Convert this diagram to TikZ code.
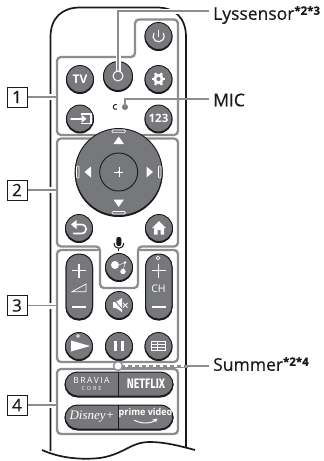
\documentclass[tikz,border=0pt]{standalone}
\usepackage{fontspec}
\setmainfont{Open Sans}
\newfontfamily\condf{Fira Sans}
\newfontfamily\serf{Liberation Serif}
\newfontfamily\heavyf[FakeBold=0.35]{Open Sans}
\usetikzlibrary{calc}
\definecolor{btng}{HTML}{77787B}
\definecolor{lineg}{HTML}{8C8D8F}
\definecolor{ink}{HTML}{1A1A1A}
\tikzset{
  x=1pt,y=-1pt,
  bodyline/.style={draw=ink,line width=1.7pt},
  grouprule/.style={draw=lineg,line width=2.3pt,rounded corners=4pt},
  btn/.style={circle,draw=ink,fill=btng,line width=.9pt,minimum size=27pt,inner sep=0pt,text=white,font=\bfseries\fontsize{12}{12}\selectfont,
     preaction={draw=ink,fill=ink,line width=1pt,transform canvas={yshift=-1pt}}},
  pill/.style={rounded corners=12.5pt,draw=ink,fill=btng,line width=1pt,
     preaction={draw=ink,fill=ink,line width=1pt,transform canvas={yshift=-1pt}}},
  numbox/.style={draw=ink,line width=1pt,minimum width=20pt,minimum height=20pt,inner sep=0pt,font=\heavyf\fontsize{17}{17}\selectfont,text=ink},
  leader/.style={draw=lineg,line width=1.8pt,preaction={draw=white,line width=6pt}},
  label/.style={anchor=west,inner sep=0pt,text=ink,font=\heavyf\fontsize{17.5}{17.5}\selectfont},
  icon/.style={draw=white,line width=1.1pt},
  pilltext/.style={text=white,inner sep=0pt},
}
\newcommand{\supmark}[1]{\raisebox{5pt}{\fontsize{11.5}{11.5}\selectfont\bfseries #1}}
\begin{document}
\begin{tikzpicture}
\useasboundingbox (0,0) rectangle (324,461);
\fill[white] (0,0) rectangle (324,461);

% body
\draw[bodyline] (50.5,451) -- (50.5,37) .. controls (50.5,18) and (62,7.5) .. (80,7.5) -- (157,7.5) .. controls (175,7.5) and (186,18) .. (186,37) -- (186,447);
\draw[bodyline] (42,450) .. controls (60,458) and (80,460) .. (100,458) .. controls (125,454) and (130,442) .. (150,442) .. controls (165,442) and (180,446) .. (195,450);

% groups
\draw[grouprule] (135,57) -- (135,19.5) -- (178,19.5) -- (178,135) -- (57,135) -- (57,57) -- cycle;
\draw[grouprule] (57,138.5) -- (178,138.5) -- (178,246.5) -- (138,246.5) -- (138,288) -- (100,288) -- (100,246.5) -- (57,246.5) -- cycle;
\draw[grouprule] (96,250) -- (57,250) -- (57,362) -- (178,362) -- (178,250) -- (141,250);
\draw[grouprule] (57,369) rectangle (178,434);
\draw[draw=lineg,line width=2pt] (96,250) -- (100,250) (138,250) -- (141,250);

% number boxes and their leaders
\node[numbox] (n1) at (17,97) {1};
\node[numbox] (n2) at (17,190) {2};
\node[numbox] (n3) at (17,305.5) {3};
\node[numbox] (n4) at (17,405) {4};
\coordinate (g1) at (56,97);
\coordinate (g2) at (56,190);
\coordinate (g3) at (56,305.5);
\coordinate (g4) at (56,405);
\draw[leader] (n1.east) -- (g1);
\draw[leader] (n2.east) -- (g2);
\draw[leader] (n3.east) -- (g3);
\draw[leader] (n4.east) -- (g4);

% top buttons
\node[btn] (power) at (158.5,36) {};
\node[btn] (tv) at (80,79) {TV};
\node[btn,minimum size=29pt] (sensor) at (118,76) {};
\node[btn] (gear) at (158.5,79) {};
\node[btn] (input) at (80,118.5) {};
\node[btn,font=\bfseries\fontsize{11.5}{11.5}\selectfont] (n123) at (158.5,118.5) {123};

% power icon
\draw[icon] (154,33) arc[start angle=215,end angle=-35,radius=5.6];
\draw[icon] (158.5,29.5) -- (158.5,36.5);
% gear icon
\foreach \a in {0,60,...,300}{\draw[white,line width=2.4pt] (158.5,79) -- ++(\a:6.8);}
\fill[white] (158.5,79) circle (5.2);
\fill[btng] (158.5,79) circle (2.1);
% input icon
\draw[icon,line width=1.3pt] (81,114) -- (91,114) -- (91,123.5) -- (81,123.5);
\draw[icon,line width=1.4pt,line cap=round] (71,118.8) -- (84,118.8);
\fill[white] (86.5,118.8) -- (81.5,114.8) -- (81.5,122.8) -- cycle;

% MIC and sensor
\node[circle,fill=btng,draw=none,minimum size=6pt,inner sep=0pt] (micdot) at (125,107) {};
\draw[line width=.9pt,draw=ink] (117,104.8) arc[start angle=-60,end angle=-300,radius=2.5];
\node[label] (lys) at (213,15) {Lyssensor\supmark{*2*3}};
\node[label] (mic) at (213,100) {MIC};
\node[label] (sum) at (213,364) {Summer\supmark{*2*4}};
\coordinate (c1) at (118,11);
\coordinate (c2) at (125,99);
\coordinate (c3) at (209,11);
\coordinate (c4) at (209,99);
\draw[draw=lineg,line width=1.8pt,preaction={draw=white,line width=5pt}] (sensor.center) -- (c1) -- (c3);
\node[circle,draw=white,line width=1pt,minimum size=10pt,inner sep=0pt,fill=btng] (sensorhole) at (118,76) {};
\draw[draw=lineg,line width=1.8pt] (micdot.center) -- (c2) -- (c4);

% D-pad
\node[btn,minimum size=87pt] (dpad) at (118.7,172) {};
\node[circle,draw=ink,fill=btng,line width=.9pt,minimum size=38pt,inner sep=0pt] (ok) at (118.7,172) {};
\draw[white,line width=.3pt] (114,172) -- (123.4,172) (118.7,167.3) -- (118.7,176.7);
\fill[white] (118.7,172) circle (1);
\fill[white] (118.7,136.5) -- (113.5,144) -- (123.9,144) -- cycle;
\fill[white] (118.7,207) -- (113.5,199.5) -- (123.9,199.5) -- cycle;
\fill[white] (84.5,172) -- (91,166.5) -- (91,177.5) -- cycle;
\fill[white] (153,172) -- (146.5,166.5) -- (146.5,177.5) -- cycle;
\draw[white,line width=.7pt,rounded corners=1pt] (112,130) rectangle (125.4,132.6);
\draw[white,line width=.7pt,rounded corners=1pt] (112,211.5) rectangle (125.4,214);
\draw[white,line width=.7pt,rounded corners=1pt] (76.5,166) rectangle (79,178);
\draw[white,line width=.7pt,rounded corners=1pt] (158.5,166) rectangle (161,178);

% back / home
\node[btn] (back) at (79,228) {};
\node[btn] (home) at (159,228) {};
\draw[icon,line width=1.6pt] (75,224.5) -- (81,224.5) .. controls (88,224.5) and (88,233.5) .. (81,233.5) -- (73,233.5);
\fill[white] (71,224.5) -- (76.5,220) -- (76.5,229) -- cycle;
\fill[white] (159,221) -- (166,228) -- (164,228) -- (164,234.5) -- (160.5,234.5) -- (160.5,230) -- (157.5,230) -- (157.5,234.5) -- (154,234.5) -- (154,228) -- (152,228) -- cycle;

% mic icon and assistant
\fill[ink,rounded corners=2pt] (116.3,237) rectangle (121.3,246);
\draw[ink,line width=1pt] (114,243) .. controls (114,250) and (123.6,250) .. (123.6,243);
\draw[ink,line width=1pt] (118.8,248.5) -- (118.8,251);
\node[btn] (assist) at (119,267) {};
\fill[white] (115,265) circle (4);
\fill[white] (123,271.5) circle (2.7);
\fill[white] (125,262.5) circle (1.3);
\draw[white,line width=.4pt] (119,265) -- (125,262.5) -- (123,271.5);

% vol / ch
\path[pill] (66,254) rectangle (92.5,319);
\path[pill] (145.5,254) rectangle (172,319);
\draw[white,line width=1.2pt] (72,270.5) -- (86,270.5) (79,263.5) -- (79,277.5);
\draw[white,line width=1.2pt] (72,307) -- (86,307);
\draw[white,line width=.7pt] (72,291.7) -- (86,291.7) -- (86,284) -- cycle;
\draw[white,line width=1.2pt] (151.5,270.5) -- (165.5,270.5) (158.5,263.5) -- (158.5,277.5);
\draw[white,line width=1.2pt] (151.5,307) -- (165.5,307);
\node[pilltext,font=\fontsize{10.5}{10.5}\selectfont] (ch) at (158.5,289) {CH};
\draw[white,line width=.7pt] (158,258) circle (1.8);

% mute, play, pause, guide
\node[btn] (mute) at (119,305) {};
\fill[white] (113,302) -- (116,302) -- (122,298) -- (122,312) -- (116,308) -- (113,308) -- cycle;
\draw[btng,line width=.9pt] (113,299) -- (124,311);
\draw[white,line width=1pt] (123,303) -- (127.5,307.5) (127.5,303) -- (123,307.5);
\node[btn] (play) at (79,346) {};
\fill[white] (71,340.5) -- (90,346) -- (71,351.5) -- cycle;
\draw[white,line width=.6pt] (78,336) circle (1.4);
\node[btn] (pause) at (119,346) {};
\fill[white] (114,341) rectangle (117.4,351);
\fill[white] (120.6,341) rectangle (124,351);
\node[btn] (guide) at (158.5,346) {};
\draw[white,line width=.9pt] (151.5,341.5) rectangle (165.5,350.5);
\fill[white] (151.5,344) rectangle (165.5,345.2);
\fill[white] (151.5,347.4) rectangle (165.5,348.2);
\fill[white] (156.5,341.5) rectangle (157.2,350.5);

% streaming
\path[pill] (65,372) rectangle (173,396);
\path[pill] (65,405) rectangle (173,429);
\draw[ink,line width=.9pt] (118.6,372) -- (118.6,396) (118.6,405) -- (118.6,429);
\node[pilltext,font=\fontsize{8.5}{8.5}\selectfont\addfontfeature{LetterSpace=18}] (bravia) at (91.5,380) {BRAVIA};
\node[pilltext,font=\fontsize{5.5}{5.5}\selectfont\addfontfeature{LetterSpace=35}] (core) at (91.5,388.5) {CORE};
\node[pilltext,font=\condf\bfseries\fontsize{12.5}{12.5}\selectfont] (netflix) at (146,384) {\scalebox{.85}[1.1]{NETFLIX}};
\node[pilltext,font=\serf\itshape\fontsize{13}{13}\selectfont] (disney) at (92,417) {Disney+};
\node[pilltext,font=\fontsize{9.5}{9.5}\selectfont] (prime) at (145.5,413) {\scalebox{.95}[1]{\bfseries prime video}};
\draw[white,line width=.9pt] (134,420) .. controls (141,424) and (150,424) .. (156,420);
\fill[white] (157.5,418.5) -- (152.5,419.5) -- (156,422) -- cycle;

% Summer leader
\coordinate (sumhole) at (118,366);
\coordinate (sumdash) at (188,366);
\coordinate (sumend) at (209,366);
\draw[draw=lineg,line width=3pt] (sumhole) -- (sumdash);
\draw[draw=white,line width=1.4pt,dash pattern=on 3pt off 4pt] (sumhole) -- (sumdash);
\draw[draw=lineg,line width=1.8pt,preaction={draw=white,line width=5pt}] (sumdash) -- (sumend);
\node[circle,draw=lineg,fill=white,line width=1.4pt,minimum size=9pt,inner sep=0pt] (sumdot) at (sumhole) {};
\end{tikzpicture}
\end{document}
